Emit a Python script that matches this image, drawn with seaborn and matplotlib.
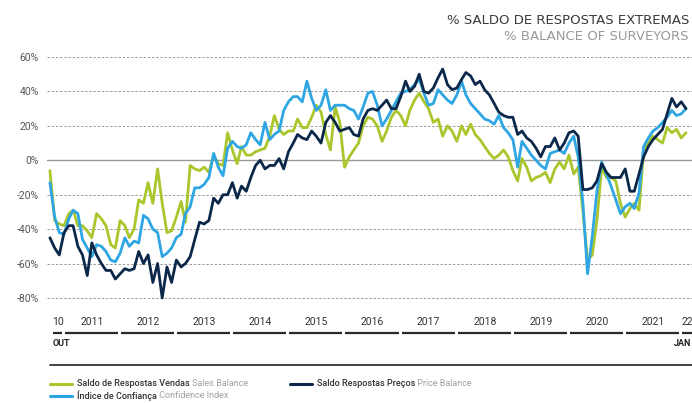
import numpy as np
import pandas as pd
import matplotlib
matplotlib.use("Agg")
import matplotlib.pyplot as plt
import matplotlib.transforms as mtransforms
from matplotlib.lines import Line2D
import seaborn as sns

# monthly data, Oct 2010 -> Feb 2022 (% balance)
sales = [-6, -35, -37, -38, -31, -29, -38, -38, -41, -45, -31, -34, -38, -49, -51, -35,
         -38, -45, -40, -23, -25, -13, -25, -5, -25, -42, -41, -33, -24, -36, -3, -5,
         -6, -4, -7, 3, -2, -3, 16, 6, -2, 8, 3, 3, 5, 6, 7, 14,
         26, 18, 15, 17, 17, 24, 19, 19, 25, 32, 28, 15, 6, 31, 22, -4,
         2, 6, 10, 20, 25, 24, 20, 11, 17, 25, 29, 26, 20, 29, 35, 39,
         34, 30, 22, 24, 14, 20, 17, 11, 20, 15, 21, 15, 12, 8, 4, 1,
         3, 6, 2, -6, -12, 1, -4, -12, -10, -9, -7, -13, -5, -1, -5, 3,
         -8, -4, -30, -58, -55, -35, -4, -10, -10, -12, -25, -33, -28, -25, -29, 5,
         10, 14, 12, 10, 19, 16, 18, 13, 16]
confidence = [-13, -33, -42, -43, -34, -29, -31, -46, -51, -56, -49, -50, -53, -58, -59, -54,
              -45, -50, -47, -48, -32, -34, -40, -42, -56, -54, -51, -45, -43, -31, -27, -16,
              -16, -14, -10, 4, -4, -9, 7, 11, 8, 7, 9, 16, 12, 9, 22, 12,
              15, 17, 29, 34, 37, 37, 34, 46, 36, 29, 32, 41, 29, 32, 32, 32,
              30, 29, 24, 31, 39, 40, 32, 20, 24, 29, 34, 39, 40, 41, 44, 47,
              39, 32, 33, 41, 38, 35, 33, 38, 46, 38, 33, 30, 27, 24, 23, 21,
              26, 19, 16, 12, -4, 11, 7, 3, 0, -3, -5, 4, 5, 6, 4, 10,
              14, 2, -25, -66, -44, -18, -1, -8, -15, -23, -31, -27, -25, -28, -19, 8,
              13, 17, 19, 22, 25, 29, 26, 27, 30]
prices = [-45, -51, -55, -42, -38, -38, -50, -55, -67, -48, -55, -60, -64, -64, -69, -66,
          -63, -64, -63, -53, -60, -55, -71, -60, -80, -62, -71, -58, -62, -60, -56, -46,
          -36, -37, -35, -22, -25, -20, -20, -13, -22, -15, -18, -10, -3, 0, -5, -3,
          -3, 1, -5, 5, 10, 15, 13, 12, 17, 14, 10, 22, 26, 22, 17, 18,
          19, 15, 14, 24, 29, 30, 29, 32, 35, 30, 30, 37, 46, 40, 43, 50,
          40, 39, 42, 48, 53, 44, 41, 42, 47, 51, 49, 44, 46, 41, 38, 33,
          28, 26, 25, 25, 15, 17, 13, 11, 7, 2, 8, 8, 13, 6, 10, 16,
          17, 14, -17, -17, -16, -12, -2, -7, -10, -10, -10, -5, -18, -18, -8, 2,
          8, 12, 15, 18, 27, 36, 31, 34, 30]

dates = pd.date_range("2010-10-01", periods=len(sales), freq="MS")
years = list(range(2011, 2022))
yticks = [60, 40, 20, 0, -20, -40, -60, -80]

c_sales = "#a9c62c"
c_conf = "#2ea6e3"
c_price = "#0b2749"

df = pd.concat([
    pd.DataFrame({"date": dates, "value": sales, "series": "sales"}),
    pd.DataFrame({"date": dates, "value": confidence, "series": "conf"}),
    pd.DataFrame({"date": dates, "value": prices, "series": "price"}),
])

sns.set_style("white")
plt.rcParams["font.family"] = ["Roboto", "DejaVu Sans"]

W, H = 692, 403
fig = plt.figure(figsize=(W / 100, H / 100), dpi=100)
ax = fig.add_axes([47 / W, 1 - 301.4 / H, (W - 47) / W, 247.8 / H])

ax.set_ylim(-82, 62)
ax.set_yticks(yticks)
ax.set_yticklabels([f"{v}%" for v in yticks])
for v in yticks:
    if v != 0:
        ax.axhline(v, color="#9a9a9a", lw=0.7, ls=(0, (2.5, 1.8)), zorder=0)
ax.axhline(0, color="#9a9a9a", lw=1.0, zorder=0)

sns.lineplot(data=df, x="date", y="value", hue="series",
             hue_order=["sales", "conf", "price"],
             palette={"sales": c_sales, "conf": c_conf, "price": c_price},
             linewidth=2.0, legend=False, ax=ax)
for ln in ax.lines:
    ln.set_clip_on(False)

ax.set_xlim(pd.Timestamp("2010-09-12"), pd.Timestamp("2022-03-12"))
ax.set_xticks([])
ax.set_xlabel("")
ax.set_ylabel("")
sns.despine(ax=ax, left=True, bottom=True)
ax.tick_params(axis="y", length=0, pad=6, labelsize=7.5, labelcolor="#555555")

# custom x axis: year labels + segments
tr = mtransforms.blended_transform_factory(ax.transData, fig.transFigure)
y_lab, y_seg, y_out = 1 - 322 / H, 1 - 333 / H, 1 - 344 / H
seg_kw = dict(color="#2a2a2a", lw=1.6, transform=tr, clip_on=False, solid_capstyle="butt")
for yr in years:
    ax.text(pd.Timestamp(f"{yr}-07-02"), y_lab, str(yr), transform=tr, ha="center",
            va="center", fontsize=7.5, color="#333333")
    ax.add_line(Line2D([pd.Timestamp(f"{yr}-01-07"), pd.Timestamp(f"{yr}-12-18")],
                       [y_seg, y_seg], **seg_kw))
ax.text(pd.Timestamp("2010-10-18"), y_lab, "10", transform=tr, ha="left", va="center",
        fontsize=7.5, color="#333333")
ax.add_line(Line2D([pd.Timestamp("2010-10-20"), pd.Timestamp("2010-12-18")],
                   [y_seg, y_seg], **seg_kw))
ax.text(pd.Timestamp("2022-01-05"), y_lab, "22", transform=tr, ha="left", va="center",
        fontsize=7.5, color="#333333")
ax.add_line(Line2D([pd.Timestamp("2022-01-07"), pd.Timestamp("2022-03-12")],
                   [y_seg, y_seg], **seg_kw))
ax.text(pd.Timestamp("2010-10-18"), y_out, "OUT", transform=tr, ha="left", va="center",
        fontsize=6.5, color="#222222", fontweight="bold")
ax.text(pd.Timestamp("2022-03-08"), y_out, "JAN", transform=tr, ha="right", va="center",
        fontsize=6.5, color="#222222", fontweight="bold")
fig.add_artist(Line2D([50 / W, 1], [1 - 365 / H, 1 - 365 / H], color="#222222", lw=1.2))

# title
fig.text(689 / W, 1 - 20 / H, "% SALDO DE RESPOSTAS EXTREMAS", ha="right", va="center",
         fontsize=9.5, color="#3a3a3a", family="DejaVu Sans")
fig.text(689 / W, 1 - 37 / H, "% BALANCE OF SURVEYORS", ha="right", va="center",
         fontsize=9.5, color="#9a9a9a", family="DejaVu Sans")

# legend: line handle, dark label, light English label chained after it
for x, y, col, b, l in [(50, 384, c_sales, "Saldo de Respostas Vendas", "Sales Balance"),
                        (290, 384, c_price, "Saldo Respostas Preços", "Price Balance"),
                        (50, 396, c_conf, "Índice de Confiança", "Confidence Index")]:
    fig.add_artist(Line2D([x / W, (x + 22) / W], [1 - y / H, 1 - y / H], color=col, lw=2.2))
    t = fig.text((x + 27) / W, 1 - y / H, b, ha="left", va="center", fontsize=6.5,
                 color="#333333", fontweight="medium")
    fig.add_artist(plt.Annotation(" " + l, xy=(1, 0.5), xycoords=t, va="center",
                                  ha="left", fontsize=6.5, color="#a0a0a0"))

fig.savefig("out.png", dpi=100)
